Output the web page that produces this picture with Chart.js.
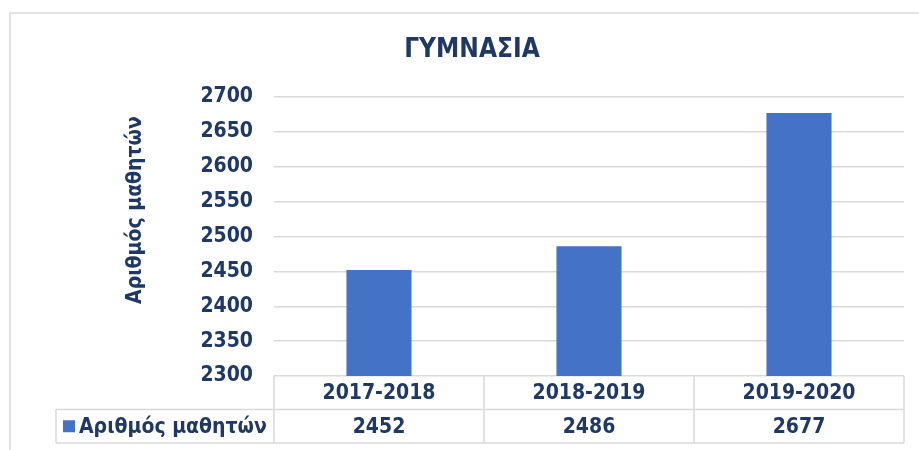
<!DOCTYPE html>
<html><head><meta charset="utf-8">
<script src="https://cdn.jsdelivr.net/npm/chart.js@4/dist/chart.umd.min.js"></script>
<style>html,body{margin:0;padding:0;background:#fff;overflow:hidden}#wrap{position:relative;width:919px;height:450px}canvas{display:block}</style>
</head><body><div id="wrap"><canvas id="c" width="919" height="450"></canvas></div>
<script>
const chartTitle = 'ΓΥΜΝΑΣΙΑ';
const seriesName = 'Αριθμός μαθητών';
const categories = ['2017-2018', '2018-2019', '2019-2020'];
const values = [2452, 2486, 2677];
const yTicks = [2300, 2350, 2400, 2450, 2500, 2550, 2600, 2650, 2700];

const FONT = '"DejaVu Sans Condensed", "DejaVu Sans", Verdana, sans-serif';
const NAVY = '#1F3864';
const GRID = '#D9D9D9';
const BAR = '#4472C4';

const tablePlugin = {
  id: 'tablePlugin',
  beforeDraw(chart) {
    const ctx = chart.ctx;
    ctx.save();
    ctx.fillStyle = '#fff';
    ctx.fillRect(0, 0, chart.width, chart.height);
    ctx.strokeStyle = GRID;
    ctx.lineWidth = 1.5;
    ctx.beginPath();
    ctx.moveTo(10, chart.height + 5);
    ctx.lineTo(10, 13);
    ctx.lineTo(chart.width + 5, 13);
    ctx.stroke();
    ctx.restore();
  },
  afterDraw(chart) {
    const ctx = chart.ctx;
    const xs = chart.scales.x;
    const ca = chart.chartArea;
    const top = ca.bottom;
    const rowH = 33.5;
    const r1 = top + rowH, r2 = top + 2 * rowH;
    const half = (xs.getPixelForValue(1) - xs.getPixelForValue(0)) / 2;
    const edges = categories.map((c, i) => xs.getPixelForValue(i) - half);
    edges.push(xs.getPixelForValue(categories.length - 1) + half);
    const leftX = 56;
    ctx.save();
    ctx.strokeStyle = GRID;
    ctx.lineWidth = 1.5;
    ctx.beginPath();
    ctx.moveTo(leftX, r1); ctx.lineTo(edges[edges.length - 1], r1);
    ctx.moveTo(leftX, r2); ctx.lineTo(edges[edges.length - 1], r2);
    edges.forEach(e => { ctx.moveTo(e, top); ctx.lineTo(e, r2); });
    ctx.moveTo(leftX, r1); ctx.lineTo(leftX, r2);
    ctx.stroke();

    ctx.fillStyle = NAVY;
    ctx.font = 'bold 21px ' + FONT;
    ctx.textAlign = 'center';
    ctx.textBaseline = 'middle';
    categories.forEach((c, i) => {
      const cx = xs.getPixelForValue(i);
      ctx.fillText(c, cx, (top + r1) / 2 + 1);
      ctx.fillText(String(values[i]), cx, (r1 + r2) / 2 + 1);
    });
    // legend key inside table
    ctx.fillStyle = BAR;
    ctx.fillRect(63, (r1 + r2) / 2 - 6, 12, 12);
    ctx.fillStyle = NAVY;
    ctx.font = 'bold 21px ' + FONT;
    ctx.textAlign = 'left';
    ctx.fillText(seriesName, 79, (r1 + r2) / 2 + 1);

    // y axis title
    ctx.translate(136, 210);
    ctx.rotate(-Math.PI / 2);
    ctx.textAlign = 'center';
    ctx.fillText(seriesName, 0, 0);
    ctx.restore();
  }
};

new Chart(document.getElementById('c'), {
  type: 'bar',
  data: {
    labels: categories,
    datasets: [{
      label: seriesName,
      data: values,
      backgroundColor: BAR,
      barPercentage: 0.31,
      categoryPercentage: 1
    }]
  },
  options: {
    responsive: false,
    devicePixelRatio: 1,
    animation: false,
    layout: { padding: { left: 40, right: 15, top: 0, bottom: 74 } },
    plugins: {
      legend: { display: false },
      tooltip: { enabled: false },
      title: {
        display: true,
        text: chartTitle,
        color: NAVY,
        font: { family: FONT, size: 26, weight: 'bold' },
        padding: { top: 35, bottom: 30.8 }
      }
    },
    scales: {
      x: { display: false },
      y: {
        min: yTicks[0],
        max: yTicks[yTicks.length - 1],
        afterFit(scale) { scale.width = 234; },
        afterBuildTicks(scale) { scale.ticks = yTicks.map(v => ({ value: v })); },
        border: { display: false },
        grid: { color: GRID, lineWidth: 1.5, drawTicks: false },
        ticks: {
          padding: 21,
          color: NAVY,
          font: { family: FONT, size: 21, weight: 'bold' },
          callback: v => String(v)
        }
      }
    }
  },
  plugins: [tablePlugin]
});
</script>
</body></html>
